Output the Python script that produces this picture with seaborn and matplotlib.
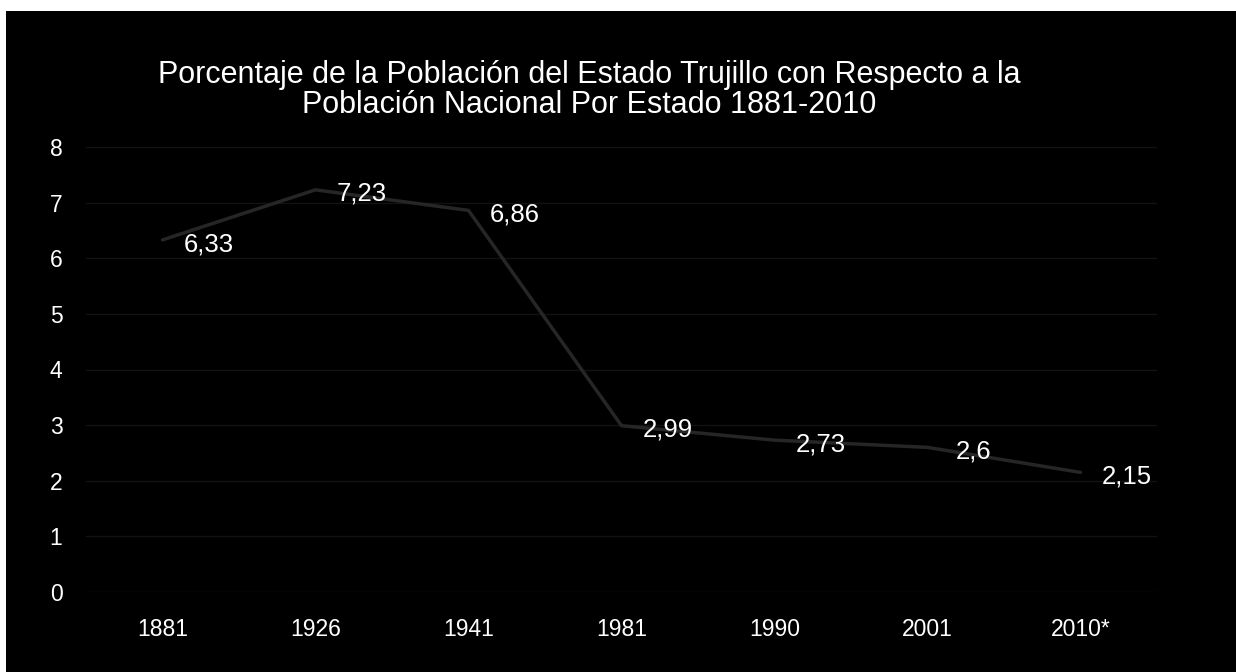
import matplotlib
matplotlib.use("Agg")
import matplotlib.pyplot as plt
import matplotlib.patches as patches
import seaborn as sns
import pandas as pd

years = ["1881", "1926", "1941", "1981", "1990", "2001", "2010*"]
values = [6.33, 7.23, 6.86, 2.99, 2.73, 2.6, 2.15]
value_labels = ["6,33", "7,23", "6,86", "2,99", "2,73", "2,6", "2,15"]
y_ticks = [0, 1, 2, 3, 4, 5, 6, 7, 8]

df = pd.DataFrame({"year": years, "pct": values})

sns.set_style("dark")
plt.rcParams["font.family"] = ["Liberation Sans", "DejaVu Sans"]

fig = plt.figure(figsize=(12.36, 6.72), dpi=100, facecolor="white")
# black panel with thin white margin at top/left like the scan
fig.patches.append(patches.Rectangle((6 / 1236, 0), 1 - 6 / 1236, 1 - 11 / 672,
                                     transform=fig.transFigure, facecolor="black",
                                     edgecolor="none", zorder=-10))

ax = fig.add_axes([86 / 1236, 80 / 672, 1071 / 1236, 445 / 672])
ax.set_facecolor("black")

sns.lineplot(data=df, x="year", y="pct", ax=ax, color="#262626", linewidth=2.5,
             sort=False, zorder=3)

for i, (v, lab) in enumerate(zip(values, value_labels)):
    ax.annotate(lab, (i, v), xytext=(33, -3), textcoords="offset points",
                ha="center", va="center", color="white", fontsize=18.5)

ax.set_xlim(-0.5, len(years) - 0.5)
ax.set_ylim(0, 8)
ax.set_yticks(y_ticks)
ax.set_yticklabels([str(t) for t in y_ticks])
ax.grid(axis="y", color="#121212", linewidth=1)
ax.grid(axis="x", visible=False)
for s in ax.spines.values():
    s.set_visible(False)
ax.tick_params(axis="y", colors="white", labelsize=16.5, length=0, pad=17)
ax.tick_params(axis="x", colors="white", labelsize=16.5, length=0, pad=19)
ax.set_xlabel("")
ax.set_ylabel("")

fig.text(0.477, 0.866, "Porcentaje de la Población del Estado Trujillo con Respecto a la\n"
         "Población Nacional Por Estado 1881-2010",
         ha="center", va="center", color="white", fontsize=22, linespacing=0.97)

fig.savefig("out.png", dpi=100, facecolor="white")
